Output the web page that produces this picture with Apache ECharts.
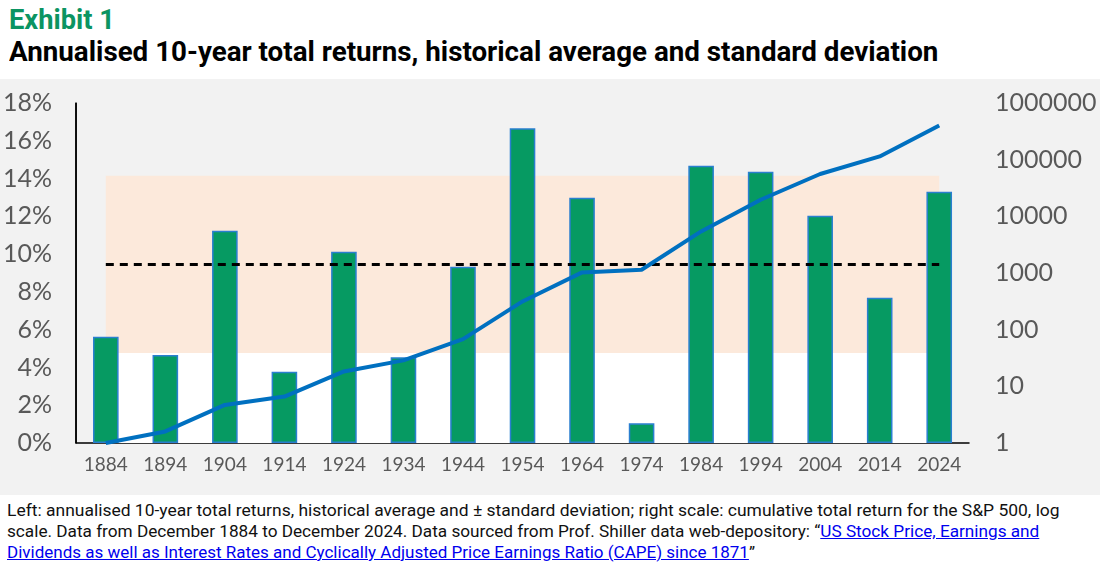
<!DOCTYPE html>
<html>
<head>
<meta charset="utf-8">
<title>Exhibit 1</title>
<script src="https://cdn.jsdelivr.net/npm/echarts@6/dist/echarts.min.js"></script>
<style>
    html, body { margin: 0; padding: 0; background: #ffffff; }
    #page { position: relative; width: 1100px; height: 566px; overflow: hidden; }
    .fit { position: absolute; left: 9px; white-space: nowrap; transform-origin: 0 0; }
    #exhibit { top: 4px; font: bold 27px Roboto, sans-serif; color: #0b9462; }
    #headline { top: 36px; font: bold 27px Roboto, sans-serif; color: #000000; }
    #chart { position: absolute; left: 0; top: 79px; width: 1100px; height: 416px; }
    .note { left: 7px; font: 16px Roboto, sans-serif; color: #111111; line-height: 21px; }
    .note a { color: #0000ee; text-decoration: underline; }
</style>
</head>
<body>
<div id="page">
    <div class="fit" id="exhibit" data-w="106">Exhibit 1</div>
    <div class="fit" id="headline" data-w="929">Annualised 10-year total returns, historical average and standard deviation</div>
    <div id="chart"></div>
    <div class="fit note" style="top:500px" data-w="1053">Left: annualised 10-year total returns, historical average and ± standard deviation; right scale: cumulative total return for the S&amp;P 500, log</div>
    <div class="fit note" style="top:521px" data-w="1032">scale. Data from December 1884 to December 2024. Data sourced from Prof. Shiller data web-depository: “<a href="#">US Stock Price, Earnings and</a></div>
    <div class="fit note" style="top:542px" data-w="748"><a href="#">Dividends as well as Interest Rates and Cyclically Adjusted Price Earnings Ratio (CAPE) since 1871</a>”</div>
</div>
<script>
"use strict";

// values
var years = ['1884', '1894', '1904', '1914', '1924', '1934', '1944', '1954',
             '1964', '1974', '1984', '1994', '2004', '2014', '2024'];
var annualReturns = [5.63, 4.66, 11.24, 3.77, 10.13, 4.54, 9.33, 16.66,
                     12.99, 1.04, 14.68, 14.36, 12.03, 7.69, 13.30];
var cumulativeReturn = [1, 1.6, 4.7, 6.6, 18.3, 28.7, 68, 315,
                        1024, 1143, 5420, 19600, 55800, 114000, 402000];
var averageReturn = 9.46;
var stdDeviation = 4.69;
var leftTicks = [0, 18, 2];         // min, max, step (%)
var rightTicks = [1, 1000000];      // log scale

// squeeze the html text lines to the widths of the original
var lines = document.querySelectorAll('.fit');
for (var i = 0; i < lines.length; i++) {
    var w = lines[i].scrollWidth;
    lines[i].style.transform = 'scaleX(' + (Number(lines[i].getAttribute('data-w')) / w) + ')';
}

var chart = echarts.init(document.getElementById('chart'));
var labelFont = {color: '#595959', fontFamily: 'Lato', fontSize: 25};
var lastIdx = years.length - 1;

// background bands: below -1 sd (white) and the +/- 1 sd range (peach)
var bandColors = ['#ffffff', '#fce9db'];
var bands = [
    [0, lastIdx, 0, averageReturn - stdDeviation],
    [0, lastIdx, averageReturn - stdDeviation, averageReturn + stdDeviation]
];

function renderBand(params, api) {
    var p0 = api.coord([api.value(0), api.value(3)]);
    var p1 = api.coord([api.value(1), api.value(2)]);
    var children = [{
        type: 'rect',
        shape: {x: p0[0], y: p0[1], width: p1[0] - p0[0], height: p1[1] - p0[1]},
        style: {fill: bandColors[params.dataIndex]}
    }];
    // left axis line along the grid edge (the y axis line would not show up)
    if (params.dataIndex === 0) {
        var cs = params.coordSys;
        children.push({
            type: 'line',
            shape: {x1: cs.x, y1: cs.y, x2: cs.x, y2: cs.y + cs.height},
            style: {stroke: '#000000', lineWidth: 1.5}
        });
    }
    return {type: 'group', children: children};
}

var option = {
    backgroundColor: '#f2f2f2',
    animation: false,
    grid: {left: 75, right: 131, top: 24, bottom: 52},
    xAxis: {
        type: 'category',
        data: years,
        axisLine: {lineStyle: {color: '#000000', width: 1.5}},
        axisTick: {show: false},
        axisLabel: {color: '#595959', fontFamily: 'Lato', fontSize: 19, margin: 12}
    },
    yAxis: [
        {
            type: 'value',
            position: 'left',
            min: leftTicks[0],
            max: leftTicks[1],
            interval: leftTicks[2],
            axisLine: {show: true, onZero: false, lineStyle: {color: '#000000', width: 1.5}},
            axisTick: {show: false},
            splitLine: {show: false},
            axisLabel: Object.assign({formatter: '{value}%', margin: 24}, labelFont)
        },
        {
            type: 'log',
            position: 'right',
            logBase: 10,
            min: rightTicks[0],
            max: rightTicks[1],
            interval: 1,
            axisLine: {show: false},
            axisTick: {show: false},
            splitLine: {show: false},
            axisLabel: Object.assign({
                margin: 26,
                formatter: function (v) { return String(Math.round(v)); }
            }, labelFont)
        }
    ],
    series: [
        {
            name: 'band',
            type: 'custom',
            z: 1,
            silent: true,
            clip: false,
            renderItem: renderBand,
            encode: {x: [0, 1], y: [2, 3]},
            data: bands
        },
        {
            name: 'Annualised 10-year total return',
            type: 'bar',
            z: 2,
            barWidth: '43%',
            data: annualReturns,
            itemStyle: {color: '#069a62', borderColor: '#2a7fd0', borderWidth: 1.5},
            markLine: {
                silent: true,
                symbol: 'none',
                label: {show: false},
                lineStyle: {color: '#000000', width: 3, type: [8, 6]},
                data: [
                    [{coord: [years[0], averageReturn]}, {coord: [years[lastIdx], averageReturn]}]
                ]
            }
        },
        {
            name: 'Cumulative total return',
            type: 'line',
            yAxisIndex: 1,
            z: 6,
            data: cumulativeReturn,
            symbol: 'none',
            lineStyle: {color: '#0070c0', width: 4}
        }
    ]
};

chart.setOption(option);
</script>
</body>
</html>
